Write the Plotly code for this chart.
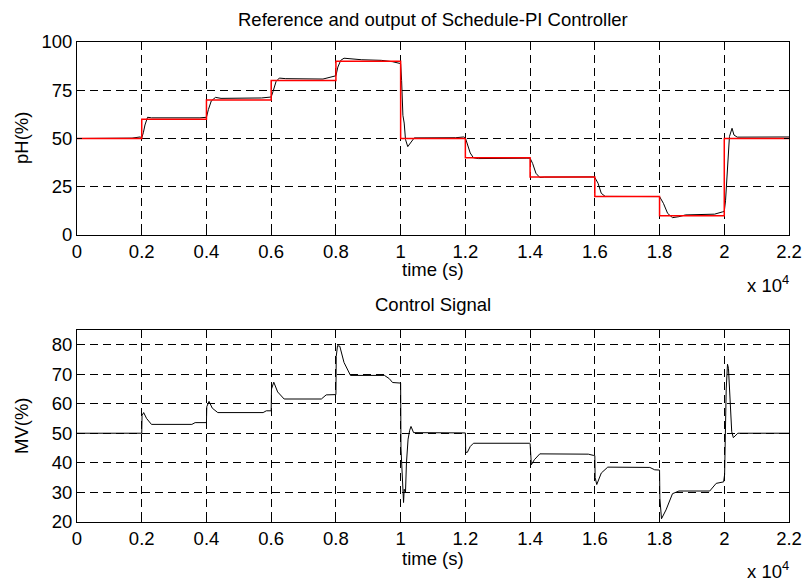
import plotly.graph_objects as go

# ---------------- data ----------------
ref_t = [0, 2000, 4000, 6000, 8000, 10000, 12000, 14000, 16000, 18000, 20000, 22000]
ref_ph = [50, 60, 70, 80, 90, 50, 40, 30, 20, 10, 50, 50]

ph_t = [0, 1700, 1950, 2000, 2050, 2100, 2180, 2300, 3800, 4000, 4060, 4150, 4280, 4450,
        5700, 5950, 6000, 6060, 6150, 6250, 6450, 7600, 7900, 8000, 8060, 8150, 8250, 8450,
        8800, 9400, 9750, 9950, 10000, 10030, 10070, 10110, 10150, 10220, 10300, 10420,
        11700, 11950, 12000, 12060, 12150, 12250, 12400, 13900, 14000, 14080, 14180, 14300,
        14450, 15950, 16000, 16100, 16200, 16320, 17950, 18000, 18120, 18250, 18400, 18600,
        18800, 19700, 19950, 20000, 20040, 20080, 20120, 20160, 20240, 20300, 20400, 21500, 22000]
ph_out = [50, 50.2, 50.8, 50.3, 53, 57, 61, 60.7, 60.7, 61, 65, 69.5, 71.3, 70.8,
          71, 71.5, 71.5, 74.5, 79.5, 81.3, 81, 80.8, 82, 82.5, 87, 90.5, 91.6, 91.3,
          90.8, 90.5, 89.8, 89, 88.8, 80, 62, 58, 49.5, 45.8, 47.5, 50.3,
          50.4, 50.8, 50.3, 47.5, 42.5, 40, 39.6, 39.8, 39.8, 37, 32, 29.8,
          30, 30.1, 29.8, 26.8, 21.6, 20, 20.2, 19.9, 16.4, 11.2, 9, 9.5,
          10.4, 10.8, 12, 12.2, 18, 30, 45.8, 51, 55.3, 51.8, 50.7, 50.8, 50.8]

mv_t = [0, 2000, 2010, 2060, 2150, 2300, 3550, 3650, 4000, 4010, 4080, 4180, 4350, 5750,
        5850, 6000, 6010, 6080, 6200, 6400, 7550, 7700, 8000, 8010, 8050, 8120, 8250, 8450,
        9500, 9650, 9750, 10000, 10010, 10040, 10070, 10090, 10110, 10150, 10180, 10230,
        10280, 10320, 10400, 12000, 12010, 12060, 12150, 12250, 13980, 14000, 14040, 14130,
        14300, 15800, 15950, 16000, 16010, 16060, 16200, 16400, 17700, 17850, 18000, 18010,
        18060, 18200, 18400, 18600, 19550, 19750, 19980, 20010, 20060, 20100, 20130, 20170,
        20230, 20280, 20330, 20420, 22000]
mv = [50, 50, 56, 57, 55, 53, 53, 53.6, 53.6, 59, 60.8, 58.5, 57, 57,
      57.6, 57.6, 65, 67.3, 64, 61.6, 61.6, 63, 63.1, 76, 79.7, 79.5, 74, 69.6,
      69.6, 68.5, 67.2, 67, 45, 38, 27, 26.5, 31, 30, 40, 48,
      51, 52.3, 50.2, 50.1, 43.5, 43.5, 45.5, 46.6, 46.6, 46.5, 39.3, 41,
      43, 42.9, 42.5, 42.4, 35, 32.6, 36.5, 38.5, 38.4, 37.6, 37.5, 28,
      21, 24, 29.5, 30.4, 30.4, 33, 33.5, 36, 65, 73.4, 72, 65,
      50.5, 48.5, 49, 50, 50]

x_tickvals = [0, 2000, 4000, 6000, 8000, 10000, 12000, 14000, 16000, 18000, 20000, 22000]
x_ticktext = ["0", "0.2", "0.4", "0.6", "0.8", "1", "1.2", "1.4", "1.6", "1.8", "2", "2.2"]
ph_ticks = [0, 25, 50, 75, 100]
mv_ticks = [20, 30, 40, 50, 60, 70, 80]

# ---------------- figure ----------------
W, H = 806, 581
FONT = "Liberation Sans, Arial, sans-serif"
FS = 18.5

def px_x(p):
    return p / W

def px_y(p):
    return 1 - p / H

fig = go.Figure()
fig.add_trace(go.Scatter(x=ph_t, y=ph_out, mode="lines", line=dict(color="black", width=1),
                         xaxis="x", yaxis="y", showlegend=False, hoverinfo="skip"))
fig.add_trace(go.Scatter(x=ref_t, y=ref_ph, mode="lines", line=dict(color="red", width=1.5, shape="hv"),
                         xaxis="x", yaxis="y", showlegend=False, hoverinfo="skip"))
fig.add_trace(go.Scatter(x=mv_t, y=mv, mode="lines", line=dict(color="black", width=1),
                         xaxis="x2", yaxis="y2", showlegend=False, hoverinfo="skip"))

xdom = [px_x(77), px_x(789)]
common = dict(showline=True, linecolor="black", linewidth=1, mirror="ticks",
              ticks="inside", ticklen=5, tickcolor="black", tickwidth=1,
              showgrid=True, gridcolor="black", gridwidth=0.8, griddash="8px,5px",
              zeroline=False, automargin=False,
              tickfont=dict(family=FONT, size=FS, color="black"))

fig.update_layout(
    width=W, height=H,
    margin=dict(l=0, r=0, t=0, b=0, autoexpand=False),
    paper_bgcolor="white", plot_bgcolor="white",
    xaxis=dict(domain=xdom, range=[0, 22000], tickvals=x_tickvals, ticktext=x_ticktext,
               anchor="y", **common),
    yaxis=dict(domain=[px_y(235), px_y(42)], range=[0, 100], tickvals=ph_ticks,
               anchor="x", **common),
    xaxis2=dict(domain=xdom, range=[0, 22000], tickvals=x_tickvals, ticktext=x_ticktext,
                anchor="y2", **common),
    yaxis2=dict(domain=[px_y(521.7), px_y(330)], range=[20, 85], tickvals=mv_ticks,
                anchor="x2", **common),
)

def ann(text, px, py, xanchor="center", yanchor="middle", angle=0):
    fig.add_annotation(text=text, x=px_x(px), y=px_y(py), xref="paper", yref="paper",
                       xanchor=xanchor, yanchor=yanchor, showarrow=False, textangle=angle,
                       font=dict(family=FONT, size=FS, color="black"))

ann("Reference and output of Schedule-PI Controller", 433, 19)
ann("time (s)", 433, 269)
ann("x 10<sup>4</sup>", 745, 284, xanchor="left")
ann("pH(%)", 22, 138, angle=-90)
ann("Control Signal", 433, 304)
ann("time (s)", 433, 558)
ann("x 10<sup>4</sup>", 745, 570, xanchor="left")
ann("MV(%)", 22, 426, angle=-90)

fig.write_html(
    "out.html",
    config={"displayModeBar": False},
    post_script="document.body.style.margin='0';document.body.style.overflow='hidden';",
)
